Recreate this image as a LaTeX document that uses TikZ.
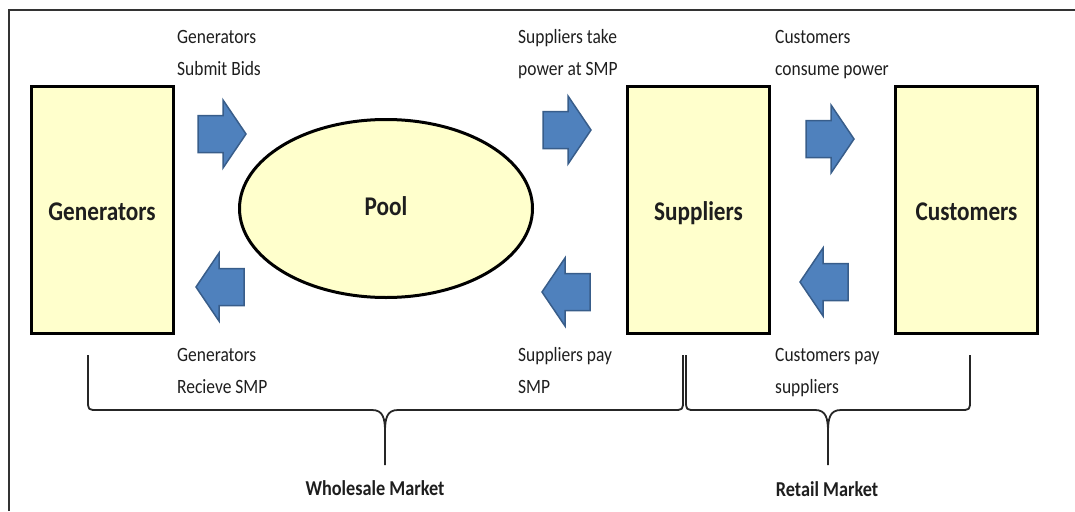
\documentclass[tikz,border=0pt]{standalone}
\usepackage{fontspec}
\setmainfont{Carlito}[FakeStretch=0.86]
\usetikzlibrary{shapes.geometric}
\definecolor{boxfill}{RGB}{255,255,204}
\definecolor{arrfill}{RGB}{79,129,189}
\definecolor{arrline}{RGB}{56,93,138}
\definecolor{txt}{RGB}{30,30,30}
\begin{document}
\begin{tikzpicture}[x=1pt,y=-1pt,
  box/.style={draw=black, line width=3pt, fill=boxfill, minimum width=142pt, minimum height=247pt, inner sep=0pt, font=\fontsize{27}{30}\selectfont\bfseries, text height=20pt, text depth=0pt, text=txt},
  pool/.style={ellipse, draw=black, line width=3pt, fill=boxfill, minimum width=293pt, minimum height=178pt, inner sep=0pt, font=\fontsize{27}{30}\selectfont\bfseries, text height=13pt, text depth=0pt, text=txt},
  lbl/.style={align=left, anchor=base west, inner sep=0pt, font=\fontsize{20.3}{32}\selectfont, text=txt},
  mkt/.style={anchor=base, inner sep=0pt, font=\fontsize{21.2}{24}\selectfont\bfseries, text=txt},
  brace/.style={draw=black!85, line width=1.8pt, line join=round},
  frameline/.style={draw=black!80, line width=1.5pt},
  blockarrow/.pic={\draw[fill=arrfill, draw=arrline, line width=1.5pt, line join=miter] (-24,-18.5) -- (1,-18.5) -- (1,-34) -- (24,0) -- (1,34) -- (1,18.5) -- (-24,18.5) -- cycle;}
]
\useasboundingbox (0,0) rectangle (1075,511);
\draw[frameline] (9,511) -- (9,10) -- (1075,10);

\node[box] (gen) at (102,210) {Generators};
\node[pool] (pool) at (386,208.5) {Pool};
\node[box] (sup) at (698.5,210) {Suppliers};
\node[box] (cus) at (966.5,210) {Customers};

\pic at (222,134) {blockarrow};
\pic at (567,130) {blockarrow};
\pic at (830,139) {blockarrow};
\pic[xscale=-1] at (220,287) {blockarrow};
\pic[xscale=-1] at (566,292) {blockarrow};
\pic[xscale=-1] at (824,282) {blockarrow};

\node[lbl] (l1) at (177,75) {Generators\\Submit Bids};
\node[lbl] (l2) at (518,75) {Suppliers take\\power at SMP};
\node[lbl] (l3) at (775,75) {Customers\\consume power};
\node[lbl] (l4) at (177,393) {Generators\\Recieve SMP};
\node[lbl] (l5) at (518,393) {Suppliers pay\\SMP};
\node[lbl] (l6) at (775,393) {Customers pay\\suppliers};

\coordinate (wl) at (88,355);
\coordinate (wr) at (683,355);
\coordinate (wc) at (385,465);
\coordinate (rl) at (686,355);
\coordinate (rr) at (970,355);
\coordinate (rc) at (828,465);

\draw[brace] (wl) -- (88,400) .. controls (88,410) .. (98,410) -- (372,410) .. controls (383,410) and (385,418) .. (385,432) -- (wc);
\draw[brace] (385,432) .. controls (385,418) and (387,410) .. (398,410) -- (673,410) .. controls (683,410) .. (683,400) -- (wr);
\draw[brace] (rl) -- (686,400) .. controls (686,410) .. (696,410) -- (815,410) .. controls (826,410) and (828,418) .. (828,432) -- (rc);
\draw[brace] (828,432) .. controls (828,418) and (830,410) .. (841,410) -- (960,410) .. controls (970,410) .. (970,400) -- (rr);

\node[mkt] (wm) at (375,495) {Wholesale Market};
\node[mkt] (rm) at (827,496) {Retail Market};
\end{tikzpicture}
\end{document}
